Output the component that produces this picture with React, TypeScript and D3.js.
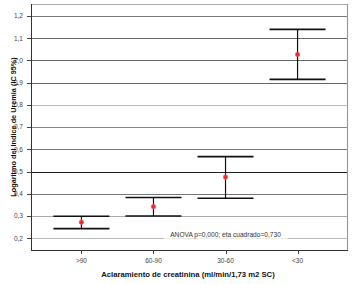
import React from "react";
import * as d3 from "d3";

const categories = [">90", "60-90", "30-60", "<30"];
const means = [0.272, 0.342, 0.475, 1.027];
const lowers = [0.243, 0.300, 0.380, 0.915];
const uppers = [0.299, 0.383, 0.567, 1.140];
const yTicks = [0.2, 0.3, 0.4, 0.5, 0.6, 0.7, 0.8, 0.9, 1.0, 1.1, 1.2];
const gridColors = ["#bbb", "#aaa", "#777", "#222", "#777", "#888", "#bbb", "#666", "#666", "#666", "#777"];
const annotation = "ANOVA p=0,000; eta cuadrado=0,730";
const xTitle = "Aclaramiento de creatinina (ml/min/1,73 m2 SC)";
const yTitle = "Logaritmo del Indice de Uremia (IC 95%)";

export default function App() {
  const W = 360, H = 284;
  const L = 31, R = 348, T = 4, B = 250;
  const y = d3.scaleLinear().domain([0.147, 1.254]).range([B, T]);
  const x = d3.scalePoint<string>().domain(categories).range([L, R]).padding(0.7);
  const cap = 28;
  const fmt = (v: number) => v.toFixed(1).replace(".", ",");
  const font = "Arial, 'Liberation Sans', sans-serif";
  return (
    <svg width={W} height={H} style={{ position: "absolute", left: 0, top: 0 }} fontFamily={font}>
      <rect x={0} y={0} width={W} height={H} fill="#fff" />
      {yTicks.map((t, i) => (
        <line key={"g" + i} x1={L} x2={R} y1={Math.round(y(t)) + 0.5} y2={Math.round(y(t)) + 0.5} stroke={gridColors[i]} strokeWidth={1} />
      ))}
      {/* annotation */}
      <rect x={x("30-60")! - 62} y={y(0.2) - 9} width={124} height={9.5} fill="#fff" />
      <text x={x("30-60")!} y={y(0.2) - 1} fontSize={6.6} fill="#333" textAnchor="middle">{annotation}</text>
      {/* borders */}
      <line x1={L} x2={R} y1={T + 0.5} y2={T + 0.5} stroke="#aaa" strokeWidth={1.2} />
      <line x1={R - 0.5} x2={R - 0.5} y1={T} y2={B} stroke="#999" strokeWidth={1.2} />
      <line x1={L + 0.5} x2={L + 0.5} y1={T} y2={B} stroke="#333" strokeWidth={1} />
      <line x1={L} x2={R} y1={B + 0.5} y2={B + 0.5} stroke="#333" strokeWidth={1} />
      {yTicks.map((t, i) => (
        <g key={"yt" + i}>
          <line x1={L - 4} x2={L} y1={Math.round(y(t)) + 0.5} y2={Math.round(y(t)) + 0.5} stroke="#444" />
          <text x={L - 8} y={y(t) + 2.3} fontSize={6.5} fill="#444" textAnchor="end">{fmt(t)}</text>
        </g>
      ))}
      {categories.map((c, i) => (
        <g key={"xt" + i}>
          <line x1={Math.round(x(c)!) + 0.5} x2={Math.round(x(c)!) + 0.5} y1={B} y2={B + 4} stroke="#444" />
          <text x={x(c)!} y={263} fontSize={6.5} fill="#444" textAnchor="middle">{c}</text>
        </g>
      ))}
      {/* error bars */}
      {categories.map((c, i) => {
        const cx = x(c)!;
        return (
          <g key={"e" + i}>
            <line x1={cx} x2={cx} y1={y(uppers[i])} y2={y(lowers[i])} stroke="#111" strokeWidth={1.2} />
            <line x1={cx - cap} x2={cx + cap} y1={y(uppers[i])} y2={y(uppers[i])} stroke="#111" strokeWidth={1.6} />
            <line x1={cx - cap} x2={cx + cap} y1={y(lowers[i])} y2={y(lowers[i])} stroke="#111" strokeWidth={1.6} />
            <circle cx={cx} cy={y(means[i])} r={2.3} fill="#e0303a" stroke="#f06070" strokeWidth={0.6} />
          </g>
        );
      })}
      <text x={188} y={277} fontSize={7.7} fontWeight="bold" fill="#111" textAnchor="middle">{xTitle}</text>
      <text transform={`translate(15.5, ${(T + B) / 2}) rotate(-90)`} fontSize={7.3} fontWeight="bold" fill="#111" textAnchor="middle">{yTitle}</text>
    </svg>
  );
}
